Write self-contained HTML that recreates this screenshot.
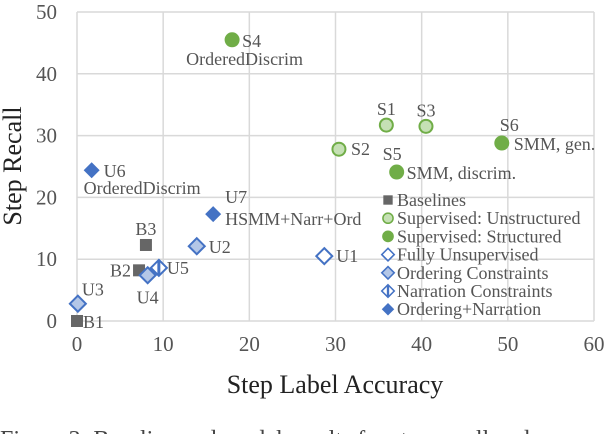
<!DOCTYPE html>
<html><head><meta charset="utf-8"><style>
body{margin:0;background:#fff;width:606px;height:434px;overflow:hidden;font-family:"Liberation Serif",serif}
svg text{font-family:"Liberation Serif",serif}
</style></head><body>
<svg id="chart" width="606" height="434" xmlns="http://www.w3.org/2000/svg">
<g id="grid"></g>
<g id="ticks"></g>
<g id="marks"></g>
<text x="335" y="393" font-size="26" text-anchor="middle" fill="#222">Step Label Accuracy</text>
<text transform="translate(21,166) rotate(-90)" font-size="26" text-anchor="middle" fill="#222">Step Recall</text>
<g id="legend"></g>
<text x="0" y="447" font-size="24" fill="#444">Figure 3: Baseline and model results for step recall and accuracy.</text>
</svg>
<script>
const names=["B1","B2","B3","U1","U2","U3","U4","U5","U6","U7","S1","S2","S3","S4","S5","S6"];
const xVals=[0,7.2,8.0,28.7,13.9,0.1,8.2,9.5,1.7,15.8,35.9,30.4,40.5,18.0,37.1,49.3];
const yVals=[0,8.2,12.3,10.5,12.1,2.8,7.4,8.6,24.4,17.3,31.7,27.8,31.5,45.5,24.1,28.8];
const kinds=["base","base","base","unsup","order","order","order","narr","both","both","supU","supU","supU","supS","supS","supS"];
const xTicks=[0,10,20,30,40,50,60];
const yTicks=[0,10,20,30,40,50];
const X=v=>77+v*(517/60), Y=v=>321-v*(309/50);
const NS="http://www.w3.org/2000/svg";
function mk(t,a,p){const e=document.createElementNS(NS,t);for(const k in a)e.setAttribute(k,a[k]);p.appendChild(e);return e;}
const grid=document.getElementById('grid'),ticks=document.getElementById('ticks'),marks=document.getElementById('marks');
xTicks.forEach(t=>{const l=mk('line',{x1:X(t),x2:X(t),y1:Y(50),y2:Y(0),stroke:'#d9d9d9','stroke-width':1.5},grid);

const tx=mk('text',{x:X(t),y:351,'font-size':21,'text-anchor':'middle',fill:'#555'},ticks);tx.textContent=t;
});
yTicks.forEach(t=>{const l=mk('line',{x1:X(0),x2:X(60),y1:Y(t),y2:Y(t),stroke:'#d9d9d9','stroke-width':1.5},grid);

const tx=mk('text',{x:57,y:Y(t)+7,'font-size':21,'text-anchor':'end',fill:'#555'},ticks);tx.textContent=t;
});
function marker(kind,cx,cy,p){
 if(kind==='base'){return mk('rect',{x:cx-6,y:cy-6,width:12,height:12,fill:'#666'},p);}
 if(kind==='supU')return mk('circle',{cx,cy,r:6.5,fill:'#c5e0b4',stroke:'#70ad47','stroke-width':2},p);
 if(kind==='supS')return mk('circle',{cx,cy,r:7.5,fill:'#70ad47'},p);
 const d=`M${cx},${cy-8} L${cx+8},${cy} L${cx},${cy+8} L${cx-8},${cy} Z`;
 if(kind==='unsup')return mk('path',{d,fill:'#fff',stroke:'#4472c4','stroke-width':2},p);
 if(kind==='order')return mk('path',{d,fill:'#b4c7e7',stroke:'#4472c4','stroke-width':2},p);
 if(kind==='narr'){const g=mk('g',{},p);mk('path',{d,fill:'#fff',stroke:'#4472c4','stroke-width':2},g);mk('line',{x1:cx,x2:cx,y1:cy-7,y2:cy+7,stroke:'#4472c4','stroke-width':3},g);return g;}
 return mk('path',{d,fill:'#4472c4'},p);
}
const labels={B1:[6,7,"start"],B2:[-8,6,"end"],B3:[0,-10,"middle"],U1:[12,6,"start"],U2:[12,7,"start"],U3:[4,-8,"start"],U4:[0,28,"middle"],U5:[8,6,"start"],U6:[12,7,"start"],U7:[12,-11,"start"],S1:[0,-10,"middle"],S2:[12,6,"start"],S3:[0,-10,"middle"],S4:[10,7,"start"],S5:[-14,-12,"start"],S6:[-2,-12,"start"]};
const extra={U6:[-8,24,"OrderedDiscrim"],U7:[12,11,"HSMM+Narr+Ord"],S4:[-46,25,"OrderedDiscrim"],S5:[10,7,"SMM, discrim."],S6:[12,7,"SMM, gen."]};
names.forEach((n,i)=>{const cx=X(xVals[i]),cy=Y(yVals[i]);
 const m=marker(kinds[i],cx,cy,marks);
 
 
 const L=labels[n];const t=mk('text',{x:cx+L[0],y:cy+L[1],'font-size':18,'text-anchor':L[2],fill:'#555'},marks);t.textContent=n;
 
 
 if(extra[n]){const E=extra[n];const t2=mk('text',{x:cx+E[0],y:cy+E[1],'font-size':18,fill:'#555'},marks);t2.textContent=E[2];
 
 }
});
const leg=document.getElementById('legend');
const legKinds=["base","supU","supS","unsup","order","narr","both"];
const legNames=["Baselines","Supervised: Unstructured","Supervised: Structured","Fully Unsupervised","Ordering Constraints","Narration Constraints","Ordering+Narration"];
legKinds.forEach((k,i)=>{const y=200+i*18.2;const g=mk('g',{},leg);
 
 
 const m=marker(k,388,y,g);m.setAttribute('transform',`translate(${388*0.22},${y*0.22}) scale(0.78)`);
 const t=mk('text',{x:397,y:y+6,'font-size':18,fill:'#555'},g);t.textContent=legNames[i];});
</script>
</body></html>
